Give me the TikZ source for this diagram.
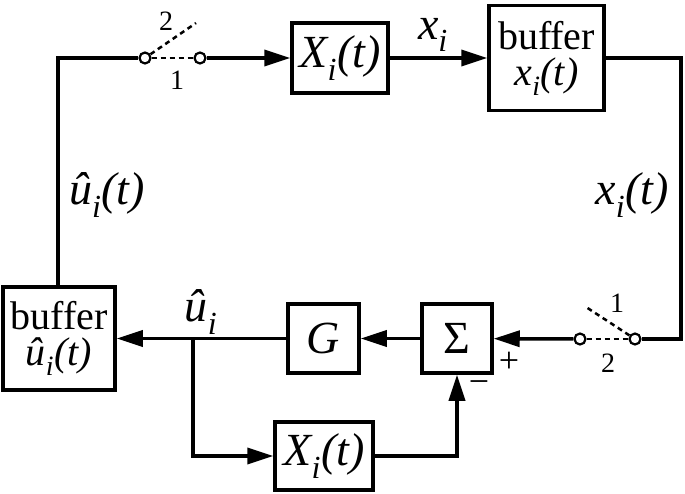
\documentclass[tikz,border=0pt]{standalone}
\usepackage{fontspec}
\setmainfont{LiberationSerif}[Extension=.ttf,UprightFont=*-Regular,ItalicFont=*-Italic,BoldFont=*-Bold,BoldItalicFont=*-BoldItalic]
\usetikzlibrary{arrows.meta}
\newcommand\bigtxt{\fontsize{46}{50}\selectfont}
\newcommand\buftxt{\fontsize{40}{40}\selectfont}
\newcommand\numtxt{\fontsize{28}{28}\selectfont}
\newcommand\sbi{\textsubscript{\itshape i}}
\begin{document}
\begin{tikzpicture}[x=1pt,y=-1pt,
  box/.style={draw,line width=3.5pt,inner sep=0pt,fill=white,align=center},
  wire/.style={line width=3.5pt},
  arr/.style={wire,-{Triangle[length=26pt,width=16pt]}},
  dsh/.style={line width=2.5pt,dash pattern=on 5pt off 4pt},
  term/.style={circle,draw,line width=2.2pt,fill=white,minimum size=11pt,inner sep=0pt},
  lbl/.style={inner sep=0pt,font=\bigtxt},
  num/.style={inner sep=0pt,font=\numtxt},
  sgn/.style={inner sep=0pt,font=\fontsize{36}{36}\selectfont}]
\useasboundingbox (0,0) rectangle (685,493);
% blocks
\node[box,minimum width=96pt,minimum height=70pt,font=\bigtxt] (xtop) at (340,58) {\textit{X\sbi(t)}};
\node[box,minimum width=115pt,minimum height=105pt,font=\buftxt] (bufx) at (546.5,58) {buffer\\[-4pt]\textit{x\sbi(t)}};
\node[box,minimum width=112pt,minimum height=103pt,font=\buftxt] (bufu) at (59,338.5) {buffer\\[-4pt]\textit{û\sbi(t)}};
\node[box,minimum width=71pt,minimum height=69pt,font=\bigtxt] (g) at (323.5,338.5) {\textit{G}};
\node[box,minimum width=70pt,minimum height=69pt,font=\bigtxt] (sum) at (457,338.5) {Σ};
\node[box,minimum width=98pt,minimum height=68pt,font=\bigtxt] (xbot) at (324,456) {\textit{X\sbi(t)}};
% switches
\node[term] (s1l) at (145,58) {};
\node[term] (s1r) at (200,58) {};
\coordinate (t1) at (196,23);
\node[term] (s2l) at (580,339) {};
\node[term] (s2r) at (635,339) {};
\coordinate (t2) at (586,307);
\coordinate (rc) at (681,58);
\coordinate (br) at (193,338.5);
% connectors
\draw[wire] (bufu.north -| 58,0) |- (s1l);
\draw[dsh] (s1l) -- (s1r);
\draw[dsh] (s1l) -- (t1);
\draw[arr] (s1r) -- (xtop);
\draw[arr] (xtop) -- (bufx);
\draw[wire] (bufx.east) -- (rc) |- (s2r);
\draw[dsh] (s2l) -- (s2r);
\draw[dsh] (s2r) -- (t2);
\draw[arr] (s2l) -- (sum);
\draw[arr] (sum) -- (g);
\draw[arr] (g) -- (bufu);
\draw[arr] (br) |- (xbot);
\draw[arr] (xbot) -| (sum);
% labels
\node[num] at (166,21) {2};
\node[num] at (177,80) {1};
\node[num] at (617,303) {1};
\node[num] at (608,363) {2};
\node[lbl] at (433,35) {\textit{x\sbi}};
\node[lbl] at (632,195) {\textit{x\sbi(t)}};
\node[lbl] at (107,195) {\textit{û\sbi(t)}};
\node[lbl] at (201,312) {\textit{û\sbi}};
\node[sgn] at (509,362) {+};
\node[sgn] at (479,387) {−};
\end{tikzpicture}
\end{document}
